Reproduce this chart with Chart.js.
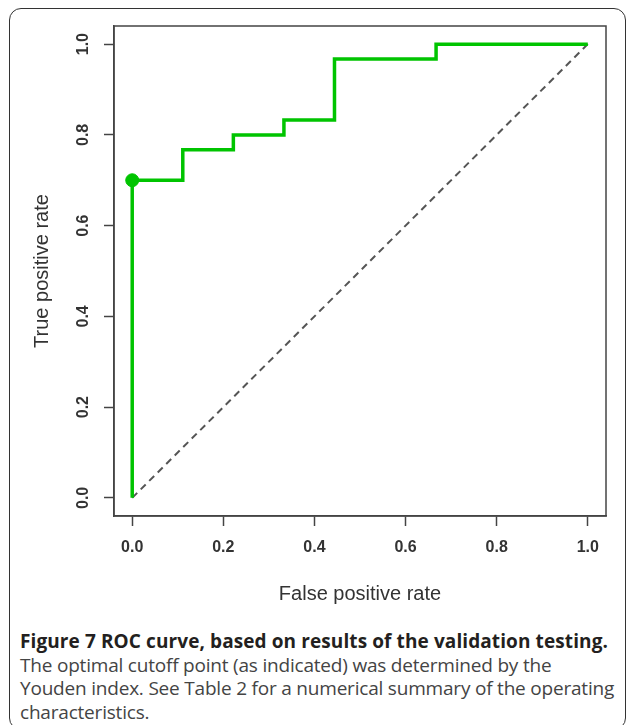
<!DOCTYPE html>
<html>
<head>
<meta charset="utf-8">
<script src="https://cdn.jsdelivr.net/npm/chart.js@4.4.1/dist/chart.umd.min.js"></script>
<style>
  html, body { margin: 0; padding: 0; background: #fff; }
  body { width: 627px; height: 725px; position: relative; overflow: hidden; }
  #frame {
    position: absolute; left: 9px; top: 8px; width: 617px; height: 722px;
    border: 1.5px solid #333; border-radius: 12px; box-sizing: border-box;
  }
  #rocChart { position: absolute; left: 0; top: 0; }
  #caption {
    position: absolute; left: 20px; top: 630px;
    font-family: "Open Sans", sans-serif; font-size: 19px; line-height: 23.5px;
    color: #444; white-space: nowrap; letter-spacing: -0.2px;
  }
  #caption b { color: #231f20; letter-spacing: 0.1px; }
</style>
</head>
<body>
<div id="frame"></div>
<canvas id="rocChart" width="627" height="615"></canvas>
<div id="caption">
  <b>Figure 7 ROC curve, based on results of the validation testing.</b><br>
  The optimal cutoff point (as indicated) was determined by the<br>
  Youden index. See Table 2 for a numerical summary of the operating<br>
  characteristics.
</div>
<script>
// ROC curve vertices
const fpr = [0, 0, 0.111, 0.222, 0.333, 0.444, 0.667, 1];
const tpr = [0, 0.7, 0.767, 0.8, 0.833, 0.967, 1, 1];

// chance line
const chanceX = [0, 1];
const chanceY = [0, 1];

// optimal cutoff (Youden)
const cutoffX = [0];
const cutoffY = [0.7];

const tickValues = [0, 0.2, 0.4, 0.6, 0.8, 1.0];
const tickLabels = ['0.0', '0.2', '0.4', '0.6', '0.8', '1.0'];

const green = '#00c400';
const axisColor = '#444';
const labelFont = '"Liberation Sans", Arial, sans-serif';

function toPoints(xs, ys) {
    return xs.map((x, i) => ({ x: x, y: ys[i] }));
}

// box round the plot and rotated y tick labels (as in R)
const boxPlugin = {
    id: 'boxPlugin',
    afterDraw(chart) {
        const ctx = chart.ctx;
        const a = chart.chartArea;
        ctx.save();
        ctx.strokeStyle = axisColor;
        ctx.lineWidth = 1.5;
        ctx.strokeRect(a.left, a.top, a.right - a.left, a.bottom - a.top);

        ctx.fillStyle = '#333';
        ctx.font = 'bold 16px ' + labelFont;
        ctx.textAlign = 'center';
        ctx.textBaseline = 'middle';
        tickValues.forEach((v, i) => {
            const y = chart.scales.y.getPixelForValue(v);
            ctx.save();
            ctx.translate(84, y);
            ctx.rotate(-Math.PI / 2);
            ctx.fillText(tickLabels[i], 0, 0);
            ctx.restore();
        });
        ctx.restore();
    }
};

const ctx = document.getElementById('rocChart').getContext('2d');
new Chart(ctx, {
    type: 'scatter',
    data: {
        datasets: [{
            label: 'Cutoff',
            data: toPoints(cutoffX, cutoffY),
            pointRadius: 6.5,
            pointBackgroundColor: green,
            pointBorderColor: green,
            showLine: false,
            order: 0
        }, {
            label: 'ROC',
            data: toPoints(fpr, tpr),
            showLine: true,
            stepped: 'before',
            borderColor: green,
            borderWidth: 3.5,
            pointRadius: 0,
            fill: false,
            order: 1
        }, {
            label: 'Chance',
            data: toPoints(chanceX, chanceY),
            showLine: true,
            borderColor: '#555',
            borderWidth: 2,
            borderDash: [7, 5],
            pointRadius: 0,
            fill: false,
            order: 2
        }]
    },
    options: {
        responsive: false,
        animation: false,
        devicePixelRatio: 1,
        layout: { padding: { top: 26, right: 21, left: 0, bottom: 0 } },
        plugins: {
            legend: { display: false },
            tooltip: { enabled: false }
        },
        scales: {
            x: {
                type: 'linear',
                min: -0.04,
                max: 1.04,
                afterBuildTicks: s => { s.ticks = tickValues.map(v => ({ value: v })); },
                afterFit: s => { s.height = 99; },
                grid: {
                    drawOnChartArea: false,
                    tickLength: 10,
                    tickColor: axisColor,
                    tickWidth: 1.5
                },
                border: { color: axisColor, width: 1.5 },
                ticks: {
                    padding: 12,
                    maxRotation: 0,
                    color: '#333',
                    font: { family: labelFont, size: 16, weight: 'bold' },
                    callback: v => tickLabels[tickValues.indexOf(v)]
                },
                title: {
                    display: true,
                    text: 'False positive rate',
                    color: '#333',
                    font: { family: labelFont, size: 20 },
                    padding: { top: 0, bottom: 9 }
                }
            },
            y: {
                type: 'linear',
                min: -0.04,
                max: 1.04,
                afterBuildTicks: s => { s.ticks = tickValues.map(v => ({ value: v })); },
                afterFit: s => { s.width = 114; },
                grid: {
                    drawOnChartArea: false,
                    tickLength: 10,
                    tickColor: axisColor,
                    tickWidth: 1.5
                },
                border: { color: axisColor, width: 1.5 },
                ticks: { display: false },
                title: {
                    display: true,
                    text: 'True positive rate',
                    color: '#333',
                    font: { family: labelFont, size: 20 },
                    padding: { top: 30, bottom: 0 }
                }
            }
        }
    },
    plugins: [boxPlugin]
});
</script>
</body>
</html>
